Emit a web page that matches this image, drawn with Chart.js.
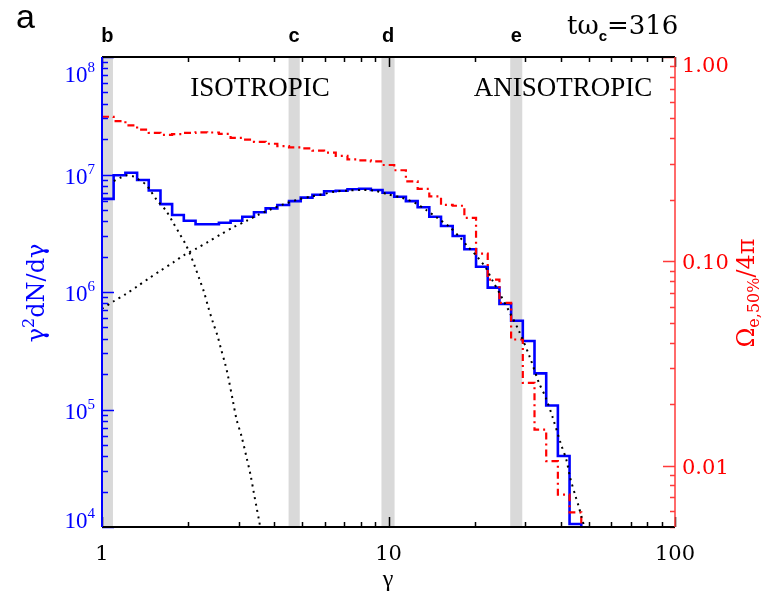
<!DOCTYPE html>
<html>
<head>
<meta charset="utf-8">
<script src="https://cdn.jsdelivr.net/npm/chart.js@4.4.1/dist/chart.umd.min.js"></script>
<style>
  html, body { margin: 0; padding: 0; background: #fff; }
</style>
</head>
<body>
<canvas id="c" width="769" height="591"></canvas>
<script>
// log spaced bin edges in gamma (42 edges -> 41 bins)
const binEdges = [1.000, 1.098, 1.207, 1.326, 1.456, 1.600, 1.757, 1.930, 2.121, 2.329,
  2.559, 2.811, 3.088, 3.392, 3.726, 4.093, 4.496, 4.939, 5.426, 5.960,
  6.546, 7.191, 7.899, 8.677, 9.533, 10.47, 11.50, 12.64, 13.88, 15.25,
  16.75, 18.40, 20.21, 22.20, 24.39, 26.79, 29.43, 32.33, 35.52, 39.01,
  42.85, 47.08]

// gamma^2 dN/dgamma per bin (blue, left axis)
const spectrum = [6.2e6, 9.85e6, 1.035e7, 8.98e6, 7.3e6, 5.6e6, 4.52e6, 4.04e6, 3.77e6, 3.77e6,
  3.89e6, 4.04e6, 4.37e6, 4.77e6, 5.15e6, 5.5e6, 5.94e6, 6.35e6, 6.73e6, 7.2e6,
  7.28e6, 7.48e6, 7.57e6, 7.38e6, 7.0e6, 6.47e6, 5.94e6, 5.26e6, 4.37e6, 3.65e6,
  3.0e6, 2.31e6, 1.64e6, 1.09e6, 7.9e5, 5.7e5, 3.83e5, 2.03e5, 1.08e5, 4.02e4,
  1.06e4]

// Omega_e,50% / 4pi per bin (red, right axis)
const solidAngle = [0.51, 0.485, 0.463, 0.441, 0.425, 0.416, 0.419, 0.425, 0.428, 0.427,
  0.42, 0.402, 0.394, 0.384, 0.376, 0.366, 0.361, 0.357, 0.348, 0.34,
  0.328, 0.315, 0.312, 0.308, 0.296, 0.279, 0.246, 0.226, 0.208, 0.189,
  0.187, 0.163, 0.109, 0.0813, 0.0626, 0.0414, 0.0254, 0.015, 0.0105, 0.0072,
  0.0059]

// thermal fit (dotted)
const thermGamma = [1.10, 1.16, 1.22, 1.29, 1.35, 1.42, 1.47, 1.55, 1.67, 1.77,
  1.87, 1.95, 2.03, 2.11, 2.19, 2.27, 2.35, 2.44, 2.53, 2.60,
  2.69, 2.75, 2.87, 2.95, 3.07, 3.20, 3.30, 3.39, 3.46, 3.53, 3.60]
const thermFit = [8.8e6, 9.4e6, 9.85e6, 9.6e6, 9.0e6, 8.26e6, 7.4e6, 6.1e6, 4.95e6, 3.9e6,
  3.1e6, 2.6e6, 2.1e6, 1.65e6, 1.28e6, 1.0e6, 7.4e5, 5.5e5, 4.25e5, 3.3e5,
  2.45e5, 1.95e5, 1.15e5, 8.2e4, 5.9e4, 3.85e4, 2.77e4, 1.94e4, 1.49e4, 1.15e4, 8.8e3]

// non-thermal fit (dotted)
const powerGamma = [1.00, 1.095, 1.21, 1.33, 1.46, 1.60, 1.77, 1.94, 2.14, 2.35,
  2.60, 2.87, 3.20, 3.52, 3.91, 4.29, 4.87, 5.34, 5.89, 6.46,
  7.14, 7.94, 8.95, 9.96, 11.1, 12.35, 13.54, 14.86, 16.3, 17.65,
  18.94, 20.4, 21.9, 23.2, 24.4, 26.4, 28.5, 31.1, 33.5, 35.3,
  37.4, 39.9, 41.8, 43.1, 44.9, 46.1, 47.5, 48.4]
const powerFit = [7.2e5, 8.3e5, 9.6e5, 1.12e6, 1.31e6, 1.52e6, 1.78e6, 2.07e6, 2.35e6, 2.68e6,
  3.1e6, 3.55e6, 4.04e6, 4.55e6, 5.09e6, 5.57e6, 6.15e6, 6.47e6, 6.78e6, 7.14e6,
  7.28e6, 7.38e6, 7.28e6, 6.78e6, 6.35e6, 5.75e6, 4.99e6, 4.24e6, 3.6e6, 2.96e6,
  2.43e6, 2.0e6, 1.59e6, 1.22e6, 9.8e5, 6.8e5, 4.69e5, 2.81e5, 1.69e5, 1.28e5,
  8.6e4, 5.15e4, 3.7e4, 2.6e4, 1.85e4, 1.5e4, 1.15e4, 9.8e3]

// grey snapshot bands
const bandLo = [1.0, 4.48, 9.45, 26.6]
const bandHi = [1.092, 4.90, 10.5, 29.3]
const bandNames = ['b', 'c', 'd', 'e']

// ticks
const xTicks = [1, 10, 100]
const xTickText = ['1', '10', '100']
const leftTicks = [1e4, 1e5, 1e6, 1e7, 1e8]
const leftTickExp = ['4', '5', '6', '7', '8']
const rightTicks = [0.01, 0.1, 1]
const rightTickText = ['0.01', '0.10', '1.00']

const BLUE = '#0000ff'
const RED = '#ff0000'
const SERIF = '"Liberation Serif", "Times New Roman", serif'
const WIDE = '"DejaVu Serif", serif'
const SANS = '"Liberation Sans", Arial, sans-serif'

// histogram as stepped line: value i holds from edge i to edge i+1, then drop
function histPoints(vals, dropTo) {
    const pts = vals.map((v, i) => ({ x: binEdges[i], y: v }))
    pts.push({ x: binEdges[vals.length], y: dropTo })
    return pts
}
function curvePoints(xs, ys) {
    return xs.map((x, i) => ({ x, y: ys[i] }))
}

// draws a run of text pieces along one baseline
function richText(ctx, parts, x, y, align) {
    let w = 0
    for (const p of parts) {
        ctx.font = p.font
        p.w = ctx.measureText(p.t).width
        w += p.w
    }
    let cx = align === 'center' ? x - w / 2 : align === 'right' ? x - w : x
    ctx.textAlign = 'left'
    ctx.textBaseline = 'alphabetic'
    for (const p of parts) {
        ctx.font = p.font
        ctx.fillText(p.t, cx, y + (p.dy || 0))
        cx += p.w
    }
}

// minor tick values 2..9 x 10^n inside [min, max]
function minorTicks(min, max) {
    const out = []
    for (let e = Math.floor(Math.log10(min)); e <= Math.ceil(Math.log10(max)); e++) {
        for (let m = 2; m <= 9; m++) {
            const v = m * Math.pow(10, e)
            if (v >= min * 0.999 && v <= max * 1.001) out.push(v)
        }
    }
    return out
}

const axesPlugin = {
    id: 'axesPlugin',
    beforeDatasetsDraw(chart) {
        const { ctx, chartArea: a, scales } = chart
        ctx.save()
        ctx.fillStyle = '#d9d9d9'
        bandLo.forEach((lo, i) => {
            const x0 = scales.x.getPixelForValue(lo)
            const x1 = scales.x.getPixelForValue(bandHi[i])
            ctx.fillRect(x0, a.top, x1 - x0, a.bottom - a.top)
        })
        ctx.restore()
    },
    afterDatasetsDraw(chart) {
        const { ctx, chartArea: a, scales } = chart
        const { x, yL, yR } = scales
        ctx.save()
        // x ticks, bottom and top, pointing inwards
        ctx.strokeStyle = '#000'
        ctx.lineWidth = 1.5
        ctx.beginPath()
        for (const v of minorTicks(1, 100)) {
            const px = Math.round(x.getPixelForValue(v)) + 0.5
            ctx.moveTo(px, a.bottom); ctx.lineTo(px, a.bottom - 5)
            ctx.moveTo(px, a.top); ctx.lineTo(px, a.top + 5)
        }
        for (const v of xTicks) {
            const px = Math.round(x.getPixelForValue(v)) + 0.5
            ctx.moveTo(px, a.bottom); ctx.lineTo(px, a.bottom - 10)
            ctx.moveTo(px, a.top); ctx.lineTo(px, a.top + 10)
        }
        ctx.stroke()
        // left ticks
        ctx.strokeStyle = BLUE
        ctx.beginPath()
        for (const v of minorTicks(1e4, 1e8)) {
            const py = Math.round(yL.getPixelForValue(v)) + 0.5
            ctx.moveTo(a.left, py); ctx.lineTo(a.left + 6, py)
        }
        for (const v of leftTicks) {
            const py = Math.round(yL.getPixelForValue(v)) + 0.5
            ctx.moveTo(a.left, py); ctx.lineTo(a.left + 12, py)
        }
        ctx.stroke()
        // right ticks
        ctx.strokeStyle = '#ff3a3a'
        ctx.beginPath()
        for (const v of minorTicks(0.005, 1)) {
            const py = Math.round(yR.getPixelForValue(v)) + 0.5
            ctx.moveTo(a.right, py); ctx.lineTo(a.right - 5, py)
        }
        for (const v of rightTicks) {
            const py = Math.round(yR.getPixelForValue(v)) + 0.5
            ctx.moveTo(a.right, py); ctx.lineTo(a.right - 12, py)
        }
        ctx.stroke()
        // frame
        ctx.lineWidth = 2
        ctx.strokeStyle = '#000'
        ctx.beginPath()
        ctx.moveTo(a.left, a.bottom); ctx.lineTo(a.right, a.bottom)
        ctx.moveTo(a.left, a.top); ctx.lineTo(a.right, a.top)
        ctx.stroke()
        ctx.strokeStyle = BLUE
        ctx.beginPath()
        ctx.moveTo(a.left, a.top); ctx.lineTo(a.left, a.bottom)
        ctx.stroke()
        ctx.lineWidth = 1.5
        ctx.strokeStyle = '#ff3a3a'
        ctx.beginPath()
        ctx.moveTo(a.right, a.top); ctx.lineTo(a.right, a.bottom)
        ctx.stroke()
        ctx.restore()
    },
    afterDraw(chart) {
        const { ctx, chartArea: a, scales } = chart
        const { x, yL, yR } = scales
        ctx.save()
        // x tick labels
        ctx.fillStyle = '#000'
        xTicks.forEach((v, i) => {
            richText(ctx, [{ t: xTickText[i], font: '21px ' + WIDE }], x.getPixelForValue(v), 560, 'center')
        })
        // left tick labels, kept inside the axis span like IDL does
        ctx.fillStyle = BLUE
        leftTicks.forEach((v, i) => {
            const py = yL.getPixelForValue(v)
            const base = Math.min(Math.max(py + 9, a.top + 25), a.bottom + 1)
            richText(ctx, [
                { t: '10', font: '23px ' + SERIF },
                { t: leftTickExp[i], font: '15px ' + SERIF, dy: -10 }
            ], 95, base, 'right')
        })
        // right tick labels
        ctx.fillStyle = RED
        rightTicks.forEach((v, i) => {
            const py = yR.getPixelForValue(v)
            const base = Math.max(py + 8, a.top + 15)
            richText(ctx, [{ t: rightTickText[i], font: '21px ' + WIDE }], 682, base, 'left')
        })
        // band letters
        ctx.fillStyle = '#000'
        bandLo.forEach((lo, i) => {
            const cx = (x.getPixelForValue(lo) + x.getPixelForValue(bandHi[i])) / 2
            richText(ctx, [{ t: bandNames[i], font: 'bold 20px ' + SANS }], cx, 42, 'center')
        })
        richText(ctx, [{ t: 'a', font: '34px ' + SANS }], 16, 28, 'left')
        richText(ctx, [
            { t: 't\u03c9', font: '26px ' + WIDE },
            { t: 'c', font: 'bold 15px ' + SANS, dy: 7 },
            { t: '=316', font: '26px ' + WIDE }
        ], 567, 34, 'left')
        richText(ctx, [{ t: 'ISOTROPIC', font: '27px ' + SERIF }], 260, 96, 'center')
        richText(ctx, [{ t: 'ANISOTROPIC', font: '27px ' + SERIF }], 563, 96, 'center')
        // x title
        richText(ctx, [{ t: '\u03b3', font: '24px ' + SERIF }], 388, 586, 'center')
        // left title, rotated
        ctx.save()
        ctx.translate(44, 293)
        ctx.rotate(-Math.PI / 2)
        ctx.fillStyle = BLUE
        richText(ctx, [
            { t: '\u03b3', font: '24px ' + WIDE },
            { t: '2', font: '16px ' + WIDE, dy: -10 },
            { t: 'dN/d\u03b3', font: '24px ' + WIDE }
        ], 0, 0, 'center')
        ctx.restore()
        // right title, rotated
        ctx.save()
        ctx.translate(754, 293)
        ctx.rotate(-Math.PI / 2)
        ctx.fillStyle = RED
        richText(ctx, [
            { t: '\u03a9', font: '24px ' + WIDE },
            { t: 'e,50%', font: '16px ' + WIDE, dy: 5 },
            { t: '/4\u03c0', font: '24px ' + WIDE }
        ], 0, 0, 'center')
        ctx.restore()
        ctx.restore()
    }
}

const chart = new Chart(document.getElementById('c'), {
    type: 'line',
    data: {
        datasets: [
            {
                label: 'thermal',
                data: curvePoints(thermGamma, thermFit),
                yAxisID: 'yL',
                borderColor: '#000',
                borderWidth: 2,
                borderDash: [2, 4.5],
                pointRadius: 0,
                tension: 0.3,
                order: 1
            },
            {
                label: 'nonthermal',
                data: curvePoints(powerGamma, powerFit),
                yAxisID: 'yL',
                borderColor: '#000',
                borderWidth: 2,
                borderDash: [2, 4.5],
                pointRadius: 0,
                tension: 0.3,
                order: 1
            },
            {
                label: 'solid angle',
                data: histPoints(solidAngle, 0.001),
                yAxisID: 'yR',
                borderColor: RED,
                borderWidth: 2.2,
                borderDash: [7, 4, 2, 4],
                stepped: true,
                pointRadius: 0,
                order: 2
            },
            {
                label: 'spectrum',
                data: histPoints(spectrum, 1e3),
                yAxisID: 'yL',
                borderColor: BLUE,
                borderWidth: 2.6,
                stepped: true,
                pointRadius: 0,
                order: 3
            }
        ]
    },
    options: {
        animation: false,
        responsive: false,
        events: [],
        layout: { padding: { left: 102, right: 94, top: 57, bottom: 64 } },
        scales: {
            x: { type: 'logarithmic', min: 1, max: 100, display: false },
            yL: { type: 'logarithmic', position: 'left', min: 1e4, max: 1e8, display: false },
            yR: { type: 'logarithmic', position: 'right', min: 0.005, max: 1, display: false }
        },
        plugins: {
            legend: { display: false },
            tooltip: { enabled: false }
        }
    },
    plugins: [axesPlugin]
})
</script>
</body>
</html>
